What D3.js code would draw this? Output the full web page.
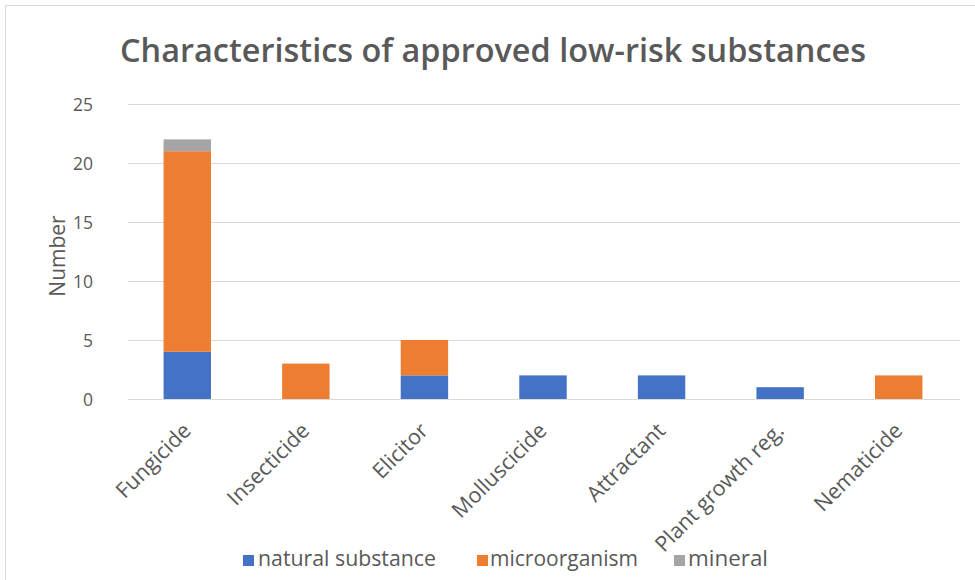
<!DOCTYPE html>
<html>
<head>
<meta charset="utf-8">
<script src="https://cdn.jsdelivr.net/npm/d3@7"></script>
<style>
  html, body { margin: 0; padding: 0; background: #fff; }
  svg { display: block; font-family: "Open Sans", "Noto Sans", sans-serif; }
</style>
</head>
<body>
<svg id="chart" width="975" height="580"></svg>
<script>
// Substance types on the x axis
const categories = ["Fungicide", "Insecticide", "Elicitor", "Molluscicide", "Attractant", "Plant growth reg.", "Nematicide"];
// Counts per origin for each type
const naturalSubstance = [4, 0, 2, 2, 2, 1, 0];
const microorganism    = [17, 3, 3, 0, 0, 0, 2];
const mineral          = [1, 0, 0, 0, 0, 0, 0];
const seriesNames  = ["natural substance", "microorganism", "mineral"];
const seriesColors = ["#4472C4", "#ED7D31", "#A5A5A5"];
const yTicks = [0, 5, 10, 15, 20, 25];

const svg = d3.select("#chart");
const textColor = "#595959";

// chart frame
svg.append("rect").attr("x", 5.5).attr("y", 5.5).attr("width", 975).attr("height", 580)
  .attr("fill", "none").attr("stroke", "#d9d9d9").attr("stroke-width", 1);

const rows = categories.map((c, i) => ({
  category: c,
  "natural substance": naturalSubstance[i],
  "microorganism": microorganism[i],
  "mineral": mineral[i]
}));

const x = d3.scaleBand().domain(categories).range([128, 958]).paddingInner(0.6).paddingOuter(0.3);
const y = d3.scaleLinear().domain([0, 25]).range([399, 104]);
const color = d3.scaleOrdinal().domain(seriesNames).range(seriesColors);

// horizontal gridlines
svg.append("g").selectAll("line").data(yTicks).join("line")
  .attr("x1", 128).attr("x2", 960)
  .attr("y1", d => Math.round(y(d)) + 0.5).attr("y2", d => Math.round(y(d)) + 0.5)
  .attr("stroke", "#d9d9d9").attr("stroke-width", 1.2);

// y axis labels
const yAxis = d3.axisLeft(y).tickValues(yTicks).tickSize(0).tickPadding(0);
const yg = svg.append("g").attr("transform", "translate(93,0)").call(yAxis);
yg.select(".domain").remove();
yg.selectAll("text").attr("fill", textColor).style("font-size", "17.5px")
  .style("font-family", "'Open Sans', sans-serif").attr("dy", "0.35em");

// stacked bars
const stack = d3.stack().keys(seriesNames)(rows);
svg.append("g").selectAll("g").data(stack).join("g")
  .attr("fill", d => color(d.key))
  .selectAll("rect").data(d => d.filter(p => p[1] - p[0] > 0)).join("rect")
  .attr("x", d => x(d.data.category))
  .attr("width", x.bandwidth())
  .attr("y", d => y(d[1]))
  .attr("height", d => y(d[0]) - y(d[1]));

// x axis category labels, rotated
const xAxis = d3.axisBottom(x).tickSize(0).tickPadding(0);
const xg = svg.append("g").attr("transform", "translate(0,399)").call(xAxis);
xg.select(".domain").remove();
xg.selectAll("text")
  .attr("fill", textColor).style("font-size", "21.5px")
  .style("font-family", "'Open Sans', sans-serif")
  .attr("text-anchor", "end")
  .attr("dy", null).attr("y", null)
  .attr("transform", "translate(5,33) rotate(-45)");

// y axis title
svg.append("text")
  .attr("transform", "translate(65,256) rotate(-90)")
  .attr("text-anchor", "middle")
  .attr("fill", textColor).style("font-size", "21px")
  .text("Number");

// chart title
svg.append("text")
  .attr("x", 493).attr("y", 62)
  .attr("text-anchor", "middle")
  .attr("fill", textColor)
  .style("font-size", "33px").style("font-weight", "600")
  .attr("textLength", 746).attr("lengthAdjust", "spacingAndGlyphs")
  .text("Characteristics of approved  low-risk substances");

// legend
const legendItems = [
  { name: seriesNames[0], sx: 243, tx: 258 },
  { name: seriesNames[1], sx: 477, tx: 490 },
  { name: seriesNames[2], sx: 674, tx: 688 }
];
const lg = svg.append("g");
lg.selectAll("rect").data(legendItems).join("rect")
  .attr("x", d => d.sx).attr("y", 555).attr("width", 11).attr("height", 11)
  .attr("fill", d => color(d.name));
lg.selectAll("text").data(legendItems).join("text")
  .attr("x", d => d.tx).attr("y", 566)
  .attr("fill", textColor).style("font-size", "21px")
  .attr("textLength", (d, i) => [178, 148, 80][i]).attr("lengthAdjust", "spacingAndGlyphs")
  .text(d => d.name);
</script>
</body>
</html>
